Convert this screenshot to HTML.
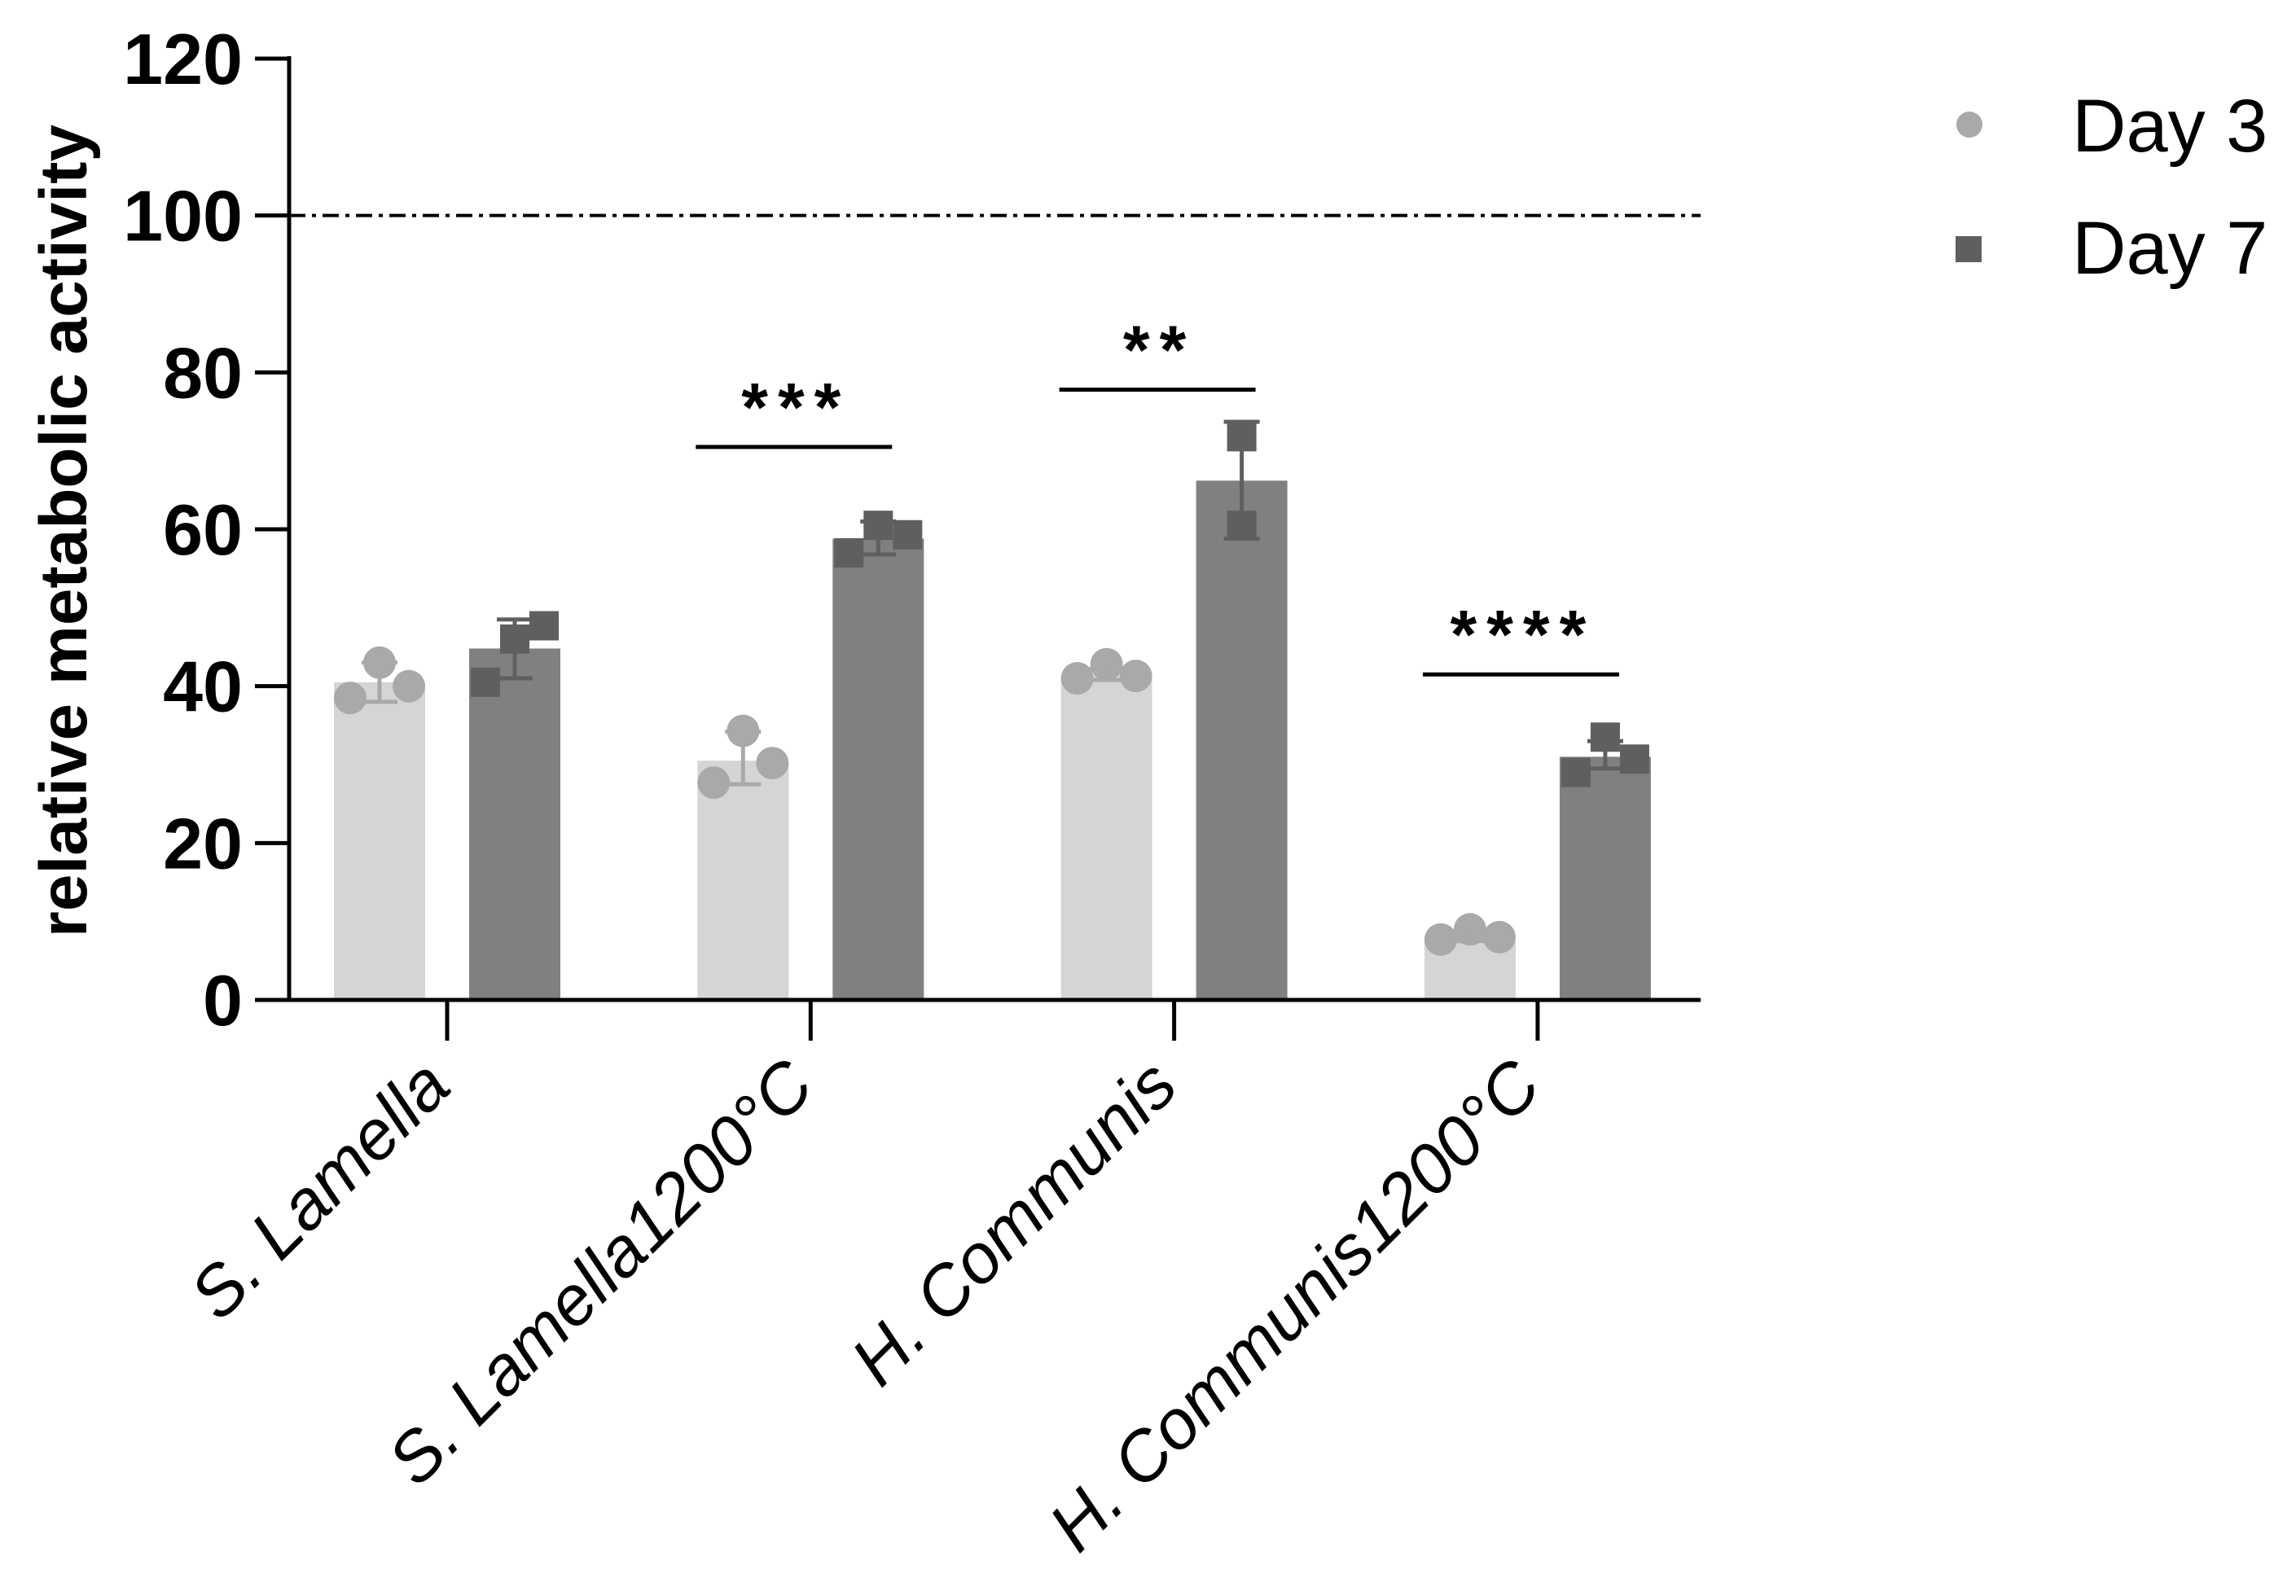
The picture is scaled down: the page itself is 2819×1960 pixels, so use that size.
<!DOCTYPE html>
<html><head><meta charset="utf-8"><style>
html,body{margin:0;padding:0;background:#fff}
svg{display:block}
text{font-family:"Liberation Sans",Arial,sans-serif}
</style></head><body>
<svg id="chart" width="2819" height="1960" viewBox="0 0 2819 1960" xmlns="http://www.w3.org/2000/svg"></svg>
<script>
const categories = ["S. Lamella","S. Lamella1200°C","H. Communis","H. Communis1200°C"];
const day3Means = [40.5, 30.5, 41.5, 8.2];
const day7Means = [44.8, 58.8, 66.2, 31.0];
const day3Points = [[43,38.5,40],[34.3,27.7,30.2],[42.8,41,41.3],[9,7.7,8]];
const day7Points = [[46,40.5,47.7],[60.5,57,59.3],[71.8,60.5],[33.5,29,30.7]];
const day3Err = [[38,43],[27.5,34.2],[40.8,42.2],[7.5,8.8]];
const day7Err = [[41,48.5],[56.8,61],[58.8,73.7],[29.5,33]];
const yTicks = [0,20,40,60,80,100,120];
const sigGroups = [1,2,3];
const sigLevels = [70.5,77.8,41.5];
const sigLabels = ["***","**","****"];
const refValue = 100;

const NS="http://www.w3.org/2000/svg";
const svg=document.getElementById('chart');
const X0=355, X1=2088, Y0=1228, Y120=72;
const y=v=>Y0-(v/120)*(Y0-Y120);
const catX=i=>549+i*446.3;
const off=83, bw=112;
function el(t,a,p){const e=document.createElementNS(NS,t);for(const k in a)e.setAttribute(k,a[k]);(p||svg).appendChild(e);return e;}

let ref=el('line',{x1:X0,x2:X1,y1:y(refValue),y2:y(refValue),stroke:'#000','stroke-width':4,'stroke-dasharray':'20 8 5 8'});



categories.forEach((c,i)=>{
  const g=el('g',{});
  
  
  [[day3Means,day3Points,day3Err,-off,'#d5d5d5','#a9a9a9','circle'],[day7Means,day7Points,day7Err,off,'#808080','#5f5f5f','square']].forEach((s,si)=>{
    const cx=catX(i)+s[3];
    const b=el('rect',{x:cx-bw/2,y:y(s[0][i]),width:bw,height:Y0-y(s[0][i]),fill:s[4]},g);
    
    
    const pts=s[1][i];
    pts.forEach((p,pi)=>{
      const px=cx+(pts.length<3?0:[0,-36,36][pi]);
      let m;
      if(s[6]==='circle') m=el('circle',{cx:px,cy:y(p),r:20,fill:s[5]},g);
      else m=el('rect',{x:px-18,y:y(p)-18,width:36,height:36,fill:s[5]},g);
      
      
    });
    const [lo,hi]=s[2][i];
    const eg=el('g',{stroke:s[5],'stroke-width':5},g);
    
    
    el('line',{x1:cx,x2:cx,y1:y(lo),y2:y(hi)},eg);
    el('line',{x1:cx-22,x2:cx+22,y1:y(lo),y2:y(lo)},eg);
    el('line',{x1:cx-22,x2:cx+22,y1:y(hi),y2:y(hi)},eg);
  });
  const tk=el('line',{x1:catX(i),x2:catX(i),y1:Y0,y2:Y0+50,stroke:'#000','stroke-width':5});
  
  
  const lx=catX(i)+8, ly=Y0+110;
  const t=el('text',{x:lx,y:ly,'text-anchor':'end','font-size':86,'font-style':'italic',transform:`rotate(-45 ${lx} ${ly})`});
  t.textContent=c;
  
  
});

sigGroups.forEach((gi,k)=>{
  const yy=y(sigLevels[k]);
  const l=el('line',{x1:catX(gi)-141,x2:catX(gi)+100,y1:yy,y2:yy,stroke:'#000','stroke-width':5});
  
  
  const t=el('text',{x:catX(gi)-18,y:yy-20,'text-anchor':'middle','font-size':84,'font-weight':'bold','letter-spacing':12});
  t.textContent=sigLabels[k];
  
  
});

const ya=el('line',{x1:X0,x2:X0,y1:Y120-3,y2:Y0+2,stroke:'#000','stroke-width':5});


const xa=el('line',{x1:X0-2,x2:X1,y1:Y0,y2:Y0,stroke:'#000','stroke-width':5});


yTicks.forEach(v=>{
  const l=el('line',{x1:X0-42,x2:X0,y1:y(v),y2:y(v),stroke:'#000','stroke-width':5});
  
  
  const t=el('text',{x:X0-57,y:y(v)+31,'text-anchor':'end','font-size':88,'font-weight':'bold'});
  t.textContent=v;
  
  
});
const yt=el('text',{x:106,y:652,'text-anchor':'middle','font-size':82,'font-weight':'bold',transform:'rotate(-90 106 652)'});
yt.textContent='relative metabolic activity';



const lg=el('g',{});


const c1=el('circle',{cx:2418,cy:153,r:16,fill:'#a9a9a9'},lg);


const t1=el('text',{x:2544,y:186,'font-size':92},lg);
t1.textContent='Day 3';


const s1=el('rect',{x:2401,y:290,width:32,height:32,fill:'#5f5f5f'},lg);


const t2=el('text',{x:2544,y:336,'font-size':92},lg);
t2.textContent='Day 7';


</script>
</body></html>
